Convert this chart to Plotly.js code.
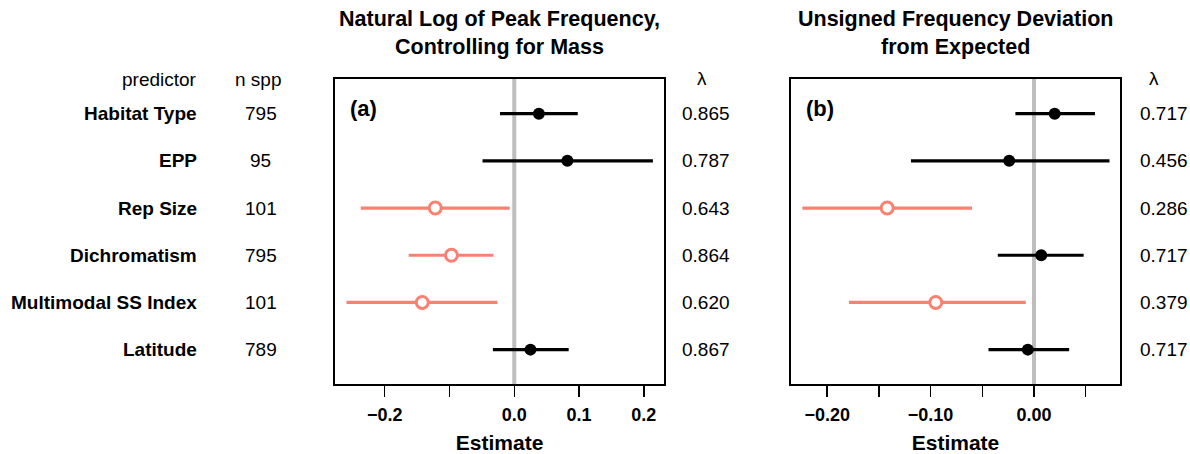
<!DOCTYPE html>
<html>
<head>
<meta charset="utf-8">
<script src="https://cdn.plot.ly/plotly-3.0.1.min.js"></script>
<style>html,body{margin:0;padding:0;background:#fff;}#chart{width:1190px;height:454px;}</style>
</head>
<body>
<div id="chart"></div>
<script>
// ---- data ----
const predictors = ["Habitat Type", "EPP", "Rep Size", "Dichromatism", "Multimodal SS Index", "Latitude"];
const nSpp = ["795", "95", "101", "795", "101", "789"];
const rowPos = [6, 5, 4, 3, 2, 1];

// Panel (a): Natural log of peak frequency, controlling for mass
const estA = [0.038, 0.082, -0.122, -0.097, -0.142, 0.025];
const loA  = [-0.022, -0.049, -0.237, -0.163, -0.259, -0.033];
const hiA  = [0.098, 0.214, -0.007, -0.032, -0.026, 0.084];
const sigA = [false, false, true, true, true, false];
const lambdaA = ["0.865", "0.787", "0.643", "0.864", "0.620", "0.867"];

// Panel (b): Unsigned frequency deviation from expected
const estB = [0.020, -0.024, -0.142, 0.007, -0.095, -0.006];
const loB  = [-0.018, -0.119, -0.224, -0.035, -0.179, -0.044];
const hiB  = [0.059, 0.073, -0.060, 0.048, -0.008, 0.034];
const sigB = [false, false, true, false, true, false];
const lambdaB = ["0.717", "0.456", "0.286", "0.717", "0.379", "0.717"];

const ticksA = [-0.2, -0.1, 0.0, 0.1, 0.2];
const tickTextA = ["\u22120.2", "", "0.0", "0.1", "0.2"];
const ticksB = [-0.20, -0.15, -0.10, -0.05, 0.00, 0.05];
const tickTextB = ["\u22120.20", "", "\u22120.10", "", "0.00", ""];

const titleA = "Natural Log of Peak Frequency,<br>Controlling for Mass";
const titleB = "Unsigned Frequency Deviation<br>from Expected";

// ---- styling ----
const FONT = "Liberation Sans, Arial, sans-serif";
const SALMON = "#FA8072";
const TXT = 19;

function makeTraces(est, lo, hi, sig, xa, ya) {
  const traces = [];
  [false, true].forEach(function (s) {
    const idx = est.map(function (_, i) { return i; }).filter(function (i) { return sig[i] === s; });
    if (!idx.length) return;
    const col = s ? SALMON : "black";
    traces.push({
      type: "scatter", mode: "markers", xaxis: xa, yaxis: ya, hoverinfo: "skip", showlegend: false,
      x: idx.map(function (i) { return est[i]; }),
      y: idx.map(function (i) { return rowPos[i]; }),
      error_x: {
        type: "data", symmetric: false,
        array: idx.map(function (i) { return hi[i] - est[i]; }),
        arrayminus: idx.map(function (i) { return est[i] - lo[i]; }),
        color: col, thickness: 3.2, width: 0
      },
      marker: s
        ? { symbol: "circle", size: 12, color: "white", line: { color: SALMON, width: 3 } }
        : { symbol: "circle", size: 12, color: "black", line: { color: "black", width: 0 } }
    });
  });
  return traces;
}

const data = [].concat(
  makeTraces(estA, loA, hiA, sigA, "x", "y"),
  makeTraces(estB, loB, hiB, sigB, "x2", "y2")
);

const yRange = [0.265, 6.735];
const yDomain = [0.1535, 0.826];

function xAxis(domain, range, tv, tt) {
  return {
    domain: domain, range: range, tickmode: "array", tickvals: tv, ticktext: tt,
    ticks: "outside", ticklen: 11, tickwidth: 1.5, tickcolor: "black",
    showline: true, mirror: true, linecolor: "black", linewidth: 1.5,
    showgrid: false, zeroline: false, ticklabelstandoff: 3,
    tickfont: { family: FONT, size: 18, color: "black", weight: "bold" },
    title: { text: "Estimate", font: { family: FONT, size: 21, color: "black", weight: "bold" }, standoff: 11 }
  };
}
function yAxis(anchor) {
  return {
    domain: yDomain, range: yRange, anchor: anchor,
    showline: true, mirror: true, linecolor: "black", linewidth: 1.5,
    showticklabels: false, ticks: "", showgrid: false, zeroline: false
  };
}

const ann = [];
function txt(o) {
  ann.push(Object.assign({ showarrow: false, font: { family: FONT, size: TXT, color: "black" } }, o));
}
// panel titles
txt({ xref: "paper", yref: "paper", x: 0.4199, y: 0.927, xanchor: "center", yanchor: "middle",
      text: "<b>" + titleA + "</b>", font: { family: FONT, size: 21.5, color: "black" } });
txt({ xref: "paper", yref: "paper", x: 0.803, y: 0.927, xanchor: "center", yanchor: "middle",
      text: "<b>" + titleB + "</b>", font: { family: FONT, size: 21.5, color: "black" } });
// panel letters
txt({ xref: "paper", yref: "paper", x: 0.2925, y: 0.762, xanchor: "left", yanchor: "middle",
      text: "<b>(a)</b>", font: { family: FONT, size: 22, color: "black" } });
txt({ xref: "paper", yref: "paper", x: 0.6755, y: 0.762, xanchor: "left", yanchor: "middle",
      text: "<b>(b)</b>", font: { family: FONT, size: 22, color: "black" } });
// column headers
txt({ xref: "paper", yref: "paper", x: 0.1672, y: 0.8238, xanchor: "right", yanchor: "middle", text: "predictor" });
txt({ xref: "paper", yref: "paper", x: 0.2165, y: 0.8238, xanchor: "center", yanchor: "middle", text: "n spp" });
txt({ xref: "paper", yref: "paper", x: 0.5899, y: 0.828, xanchor: "center", yanchor: "middle", text: "\u03bb" });
txt({ xref: "paper", yref: "paper", x: 0.9697, y: 0.828, xanchor: "center", yanchor: "middle", text: "\u03bb" });
// row labels
predictors.forEach(function (p, i) {
  txt({ xref: "paper", yref: "y", x: 0.1672, y: rowPos[i], xanchor: "right", yanchor: "middle", text: "<b>" + p + "</b>" });
  txt({ xref: "paper", yref: "y", x: 0.2193, y: rowPos[i], xanchor: "center", yanchor: "middle", text: nSpp[i] });
  txt({ xref: "paper", yref: "y", x: 0.5933, y: rowPos[i], xanchor: "center", yanchor: "middle", text: lambdaA[i] });
  txt({ xref: "paper", yref: "y2", x: 0.978, y: rowPos[i], xanchor: "center", yanchor: "middle", text: lambdaB[i] });
});

const layout = {
  width: 1190, height: 454,
  margin: { l: 0, r: 0, t: 0, b: 0 },
  paper_bgcolor: "white", plot_bgcolor: "white",
  showlegend: false,
  xaxis: xAxis([0.2815, 0.5582], [-0.2767, 0.2315], ticksA, tickTextA),
  yaxis: yAxis("x"),
  xaxis2: Object.assign(xAxis([0.6647, 0.9412], [-0.235, 0.0832], ticksB, tickTextB), { anchor: "y2" }),
  yaxis2: yAxis("x2"),
  shapes: [
    { type: "line", xref: "x", yref: "y domain", x0: 0, x1: 0, y0: 0, y1: 1, layer: "below",
      line: { color: "#BEBEBE", width: 4 } },
    { type: "line", xref: "x2", yref: "y2 domain", x0: 0, x1: 0, y0: 0, y1: 1, layer: "below",
      line: { color: "#BEBEBE", width: 4 } }
  ],
  annotations: ann
};
layout.xaxis.anchor = "y";

Plotly.newPlot("chart", data, layout, { displayModeBar: false, staticPlot: true });
</script>
</body>
</html>
